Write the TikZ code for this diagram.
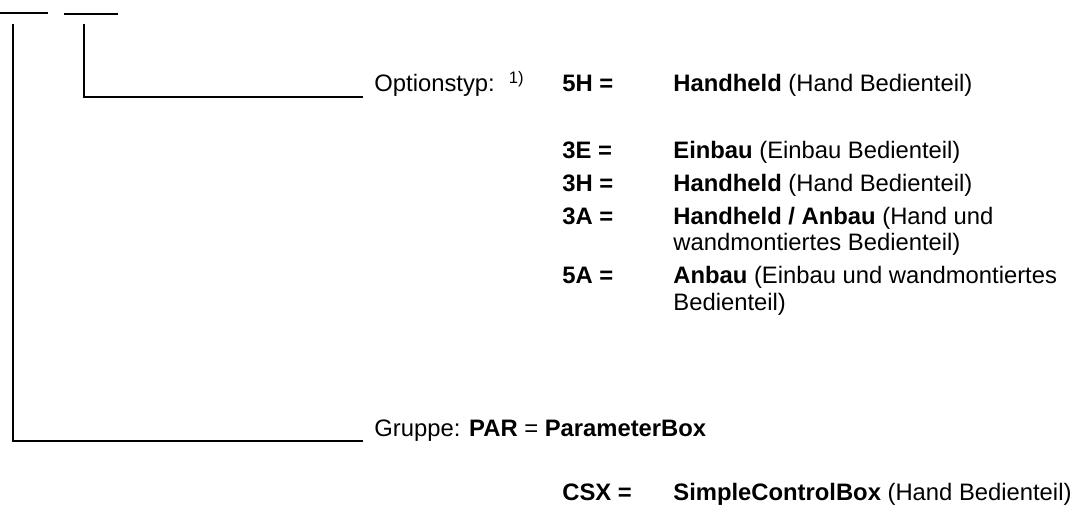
\documentclass[tikz,border=0pt]{standalone}
\usepackage{fontspec}
\setmainfont{Liberation Sans}
\usetikzlibrary{positioning}

\begin{document}
\begin{tikzpicture}[x=0.5pt, y=-0.5pt,
    txt/.style={anchor=base west, inner sep=0pt, font=\fontsize{11.9}{13.7}\selectfont},
    lead/.style={line width=1.25pt}]
    \useasboundingbox (0,0) rectangle (1079,507);

    % Blanks of the type key
    \coordinate (blankAl) at (0,13);
    \coordinate (blankAr) at (48,13);
    \coordinate (blankBl) at (64,14);
    \coordinate (blankBr) at (118,14);
    \draw[lead] (blankAl) -- (blankAr);
    \draw[lead] (blankBl) -- (blankBr);

    % Option type
    \node[txt] (opt) at (374,92) {Optionstyp:\hspace{7pt}\textsuperscript{1)}};
    \node[txt] (c5H) at (562,92) {\textbf{5H =}};
    \node[txt] (d5H) at ([xshift=55.5pt]c5H.base west) {\textbf{Handheld} (Hand Bedienteil)};

    \node[txt] (c3E) at (562,159) {\textbf{3E =}};
    \node[txt] (d3E) at ([xshift=55.5pt]c3E.base west) {\textbf{Einbau} (Einbau Bedienteil)};
    \node[txt] (c3H) at (562,192) {\textbf{3H =}};
    \node[txt] (d3H) at ([xshift=55.5pt]c3H.base west) {\textbf{Handheld} (Hand Bedienteil)};
    \node[txt] (c3A) at (562,225) {\textbf{3A =}};
    \node[txt] (d3A) at ([xshift=55.5pt]c3A.base west) {\textbf{Handheld / Anbau} (Hand und};
    \node[txt] (d3Ab) at ([yshift=-13pt]d3A.base west) {wandmontiertes Bedienteil)};
    \node[txt] (c5A) at (562,284) {\textbf{5A =}};
    \node[txt] (d5A) at ([xshift=55.5pt]c5A.base west) {\textbf{Anbau} (Einbau und wandmontiertes};
    \node[txt] (d5Ab) at ([yshift=-13pt]d5A.base west) {Bedienteil)};

    % Group
    \node[txt] (grp) at (374,436) {Gruppe: \textbf{PAR} = \textbf{ParameterBox}};
    \node[txt] (cCSX) at (562,500) {\textbf{CSX =}};
    \node[txt] (dCSX) at ([xshift=55.5pt]cCSX.base west) {\textbf{SimpleControlBox} (Hand Bedienteil)};

    % Leaders
    \coordinate (optTop) at (84,24);
    \coordinate (optEnd) at ([xshift=-5.5pt, yshift=-2.5pt]opt.base west);
    \coordinate (grpTop) at (13,24);
    \coordinate (grpEnd) at ([xshift=-5.5pt, yshift=-2.5pt]grp.base west);
    \draw[lead] (optTop) |- (optEnd);
    \draw[lead] (grpTop) |- (grpEnd);
\end{tikzpicture}
\end{document}
